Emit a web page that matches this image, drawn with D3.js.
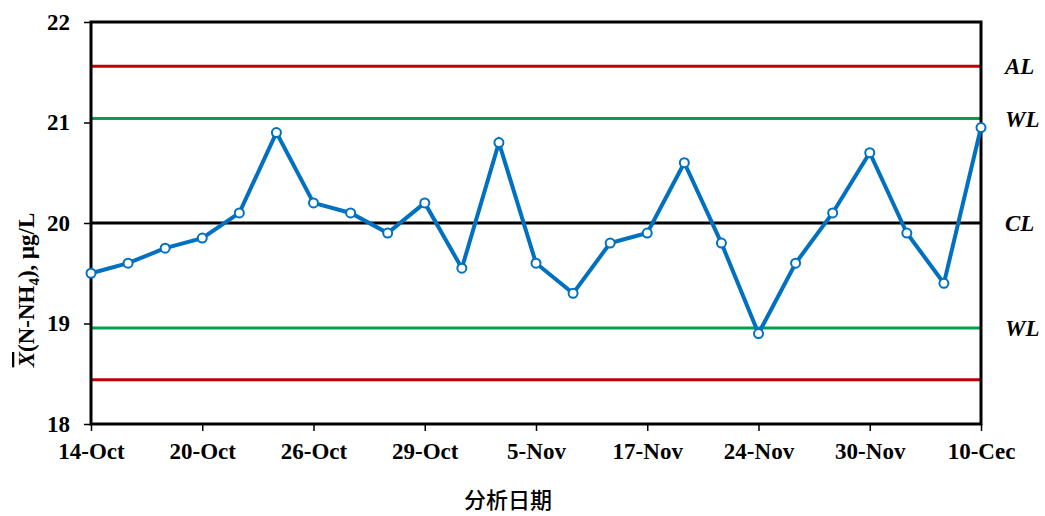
<!DOCTYPE html>
<html><head><meta charset="utf-8">
<script src="https://cdn.jsdelivr.net/npm/d3@7"></script>
<style>body{margin:0;background:#fff}</style>
</head><body>
<svg id="c" width="1045" height="516"></svg>
<script>
const dates = ["14-Oct","","","20-Oct","","","26-Oct","","","29-Oct","","","5-Nov","","","17-Nov","","","24-Nov","","","30-Nov","","","10-Cec"];
const values = [19.5,19.6,19.75,19.85,20.1,20.9,20.2,20.1,19.9,20.2,19.55,20.8,19.6,19.3,19.8,19.9,20.6,19.8,18.9,19.6,20.1,20.7,19.9,19.4,20.95];
const yTicks = [18,19,20,21,22];
const limitNames = ["AL","WL","CL","WL",""];
const limitValues = [21.56,21.04,20.0,18.955,18.44];
const limitColors = ["#C00000","#00A050","#000000","#00A050","#C00000"];

const svg = d3.select("#c");
const L=91, R=981, T=22, B=424;
const idx = d3.range(values.length);
const x = d3.scalePoint().domain(idx).range([L,R]);
const y = d3.scaleLinear().domain([18,22]).range([B,T]);
const serif = "'Liberation Serif','Times New Roman',serif";

// control lines
svg.selectAll("line.lim").data(limitValues).enter().append("line")
  .attr("x1",L).attr("x2",R).attr("y1",d=>y(d)).attr("y2",d=>y(d))
  .attr("stroke",(d,i)=>limitColors[i]).attr("stroke-width",3);

// frame
svg.append("rect").attr("x",L).attr("y",T).attr("width",R-L).attr("height",B-T)
  .attr("fill","none").attr("stroke","#000").attr("stroke-width",3);

// y axis
const ya = svg.append("g").attr("transform",`translate(${L},0)`)
  .call(d3.axisLeft(y).tickValues(yTicks).tickFormat(d3.format("d")).tickSize(7).tickPadding(14));
ya.select(".domain").remove();
ya.selectAll("line").attr("stroke","#000").attr("stroke-width",1.5);
ya.selectAll("text").attr("font-family",serif).attr("font-weight","bold").attr("font-size",23).attr("fill","#000");

// x axis
const tickIdx = idx.filter(i=>dates[i]!=="");
const xa = svg.append("g").attr("transform",`translate(0,${B})`)
  .call(d3.axisBottom(x).tickValues(tickIdx).tickFormat(i=>dates[i]).tickSize(7).tickPadding(12));
xa.select(".domain").remove();
xa.selectAll("line").attr("stroke","#000").attr("stroke-width",1.5);
xa.selectAll("text").attr("font-family",serif).attr("font-weight","bold").attr("font-size",23).attr("fill","#000");

// data line
const line = d3.line().x((d,i)=>x(i)).y(d=>y(d));
svg.append("path").datum(values).attr("d",line).attr("fill","none")
  .attr("stroke","#0070C0").attr("stroke-width",4).attr("stroke-linejoin","miter");
svg.selectAll("circle.pt").data(values).enter().append("circle")
  .attr("cx",(d,i)=>x(i)).attr("cy",d=>y(d)).attr("r",4.5)
  .attr("fill","#fff").attr("stroke","#0070C0").attr("stroke-width",2);

// right labels
svg.selectAll("text.lim").data(limitValues.filter((d,i)=>limitNames[i]!=="")).enter().append("text")
  .attr("x",1005).attr("y",d=>y(d)).attr("dy","0.35em")
  .attr("font-family",serif).attr("font-weight","bold").attr("font-style","italic").attr("font-size",23)
  .text((d,i)=>limitNames[i]);

// x title
svg.append("text").attr("x",508).attr("y",508).attr("text-anchor","middle")
  .attr("font-family","'Noto Sans CJK SC',sans-serif").attr("font-size",22).attr("font-weight",500)
  .text("分析日期");

// y title
const yt = svg.append("text").attr("transform","translate(34,290) rotate(-90)").attr("text-anchor","middle")
  .attr("font-family",serif).attr("font-weight","bold").attr("font-size",23);
yt.append("tspan").attr("font-style","italic").attr("text-decoration","overline").text("X");
yt.append("tspan").text("(N-NH");
yt.append("tspan").attr("font-size",15).attr("dy",5).text("4");
yt.append("tspan").attr("dy",-5).text("), μg/L");
</script>
</body></html>
